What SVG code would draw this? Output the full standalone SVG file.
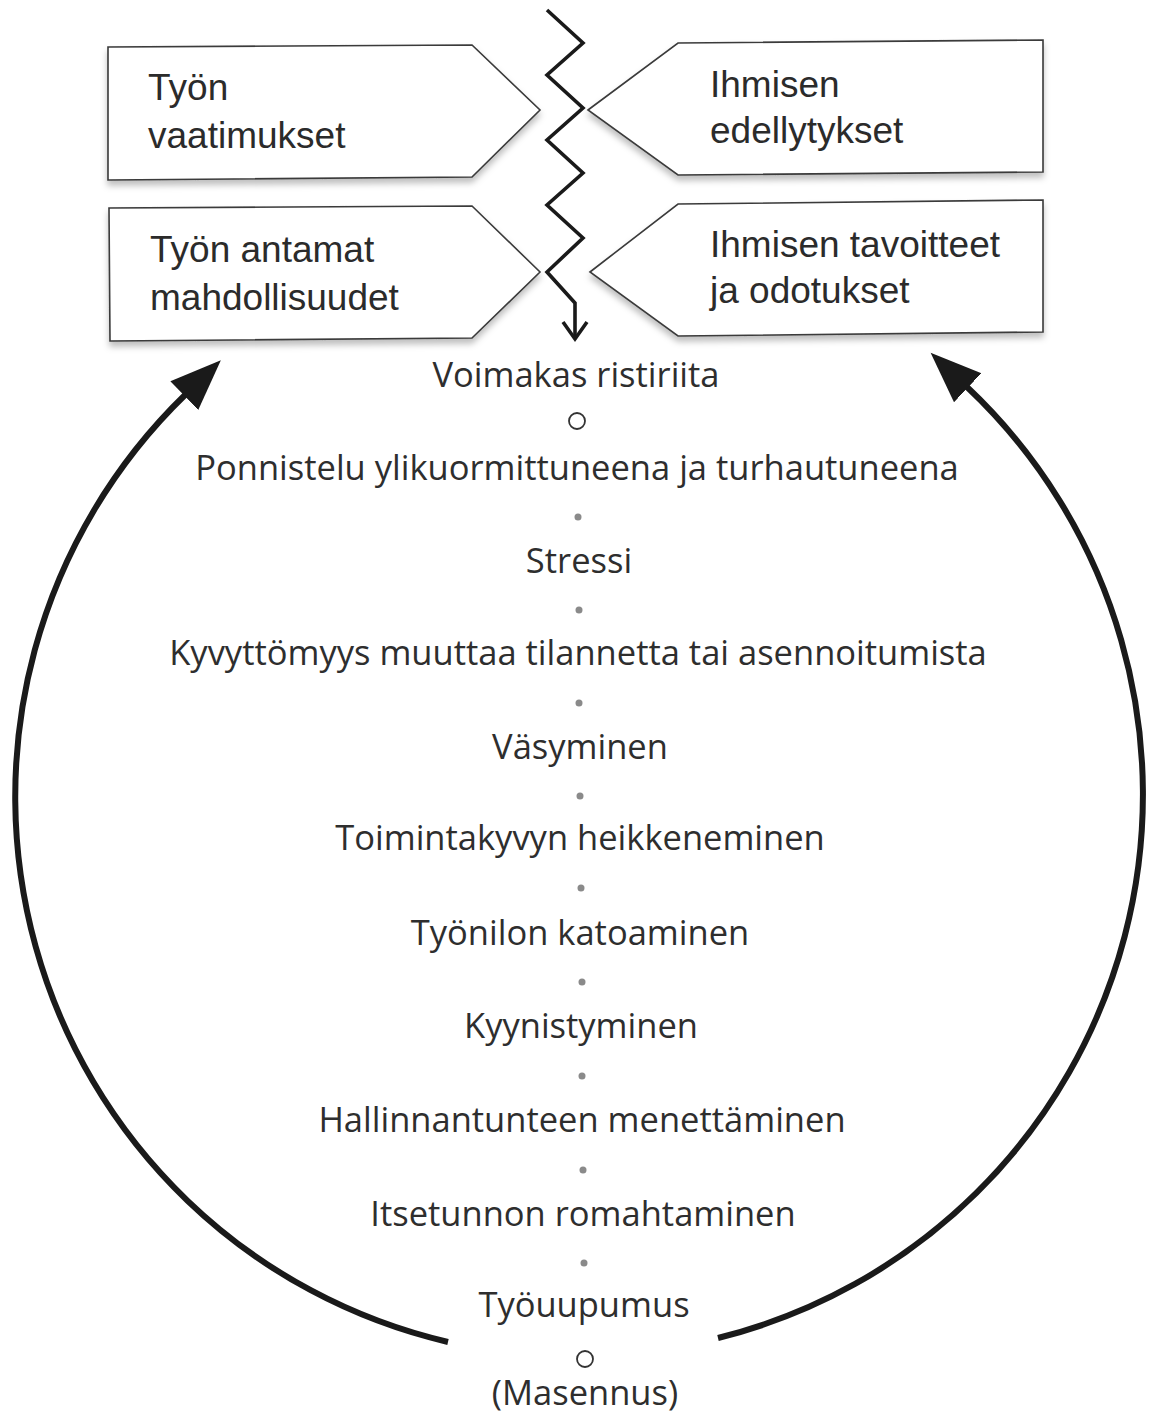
<svg xmlns="http://www.w3.org/2000/svg" width="1150" height="1419" viewBox="0 0 1150 1419">
<style>
.box{fill:#fff;stroke:#3a3a3a;stroke-width:1.6;filter:url(#sh)}
.bt{font-family:"Liberation Sans",Arial,sans-serif;font-size:37px;fill:#2b2b2b}
.ct{font-family:"Open Sans","Noto Sans",sans-serif;font-size:34.5px;fill:#2e2e2e;text-anchor:middle}
.dot{fill:#8a8a8a}
.ring{fill:none;stroke:#333;stroke-width:1.8}
.arc{fill:none;stroke:#1a1a1a;stroke-width:6}
</style>
<defs>
<filter id="sh" x="-5%" y="-10%" width="110%" height="130%">
<feDropShadow dx="0" dy="5" stdDeviation="3" flood-color="#000" flood-opacity="0.25"/>
</filter>
<marker id="ah" markerUnits="userSpaceOnUse" markerWidth="54" markerHeight="44" viewBox="0 -22 54 44" refX="1" refY="0" orient="auto">
<path d="M0,-20 L51,0 L0,20 Z" fill="#1a1a1a"/>
</marker>
</defs>
<g id="node-tyon-vaatimukset">
<polygon class="box" points="108,47 472,45 540,110 472,177 108,180"/>
<text class="bt" x="148" y="100">Työn</text>
<text class="bt" x="148" y="148">vaatimukset</text>
</g>
<g id="node-tyon-antamat">
<polygon class="box" points="109,208 472,206 540,272 472,338 110,341"/>
<text class="bt" x="150" y="262">Työn antamat</text>
<text class="bt" x="150" y="310">mahdollisuudet</text>
</g>
<g id="node-ihmisen-edellytykset">
<polygon class="box" points="588,110 678,43 1043,40 1043,172 678,175"/>
<text class="bt" x="710" y="97">Ihmisen</text>
<text class="bt" x="710" y="143">edellytykset</text>
</g>
<g id="node-ihmisen-tavoitteet">
<polygon class="box" points="590,272 678,204 1043,200 1043,332 678,336"/>
<text class="bt" x="710" y="257">Ihmisen tavoitteet</text>
<text class="bt" x="710" y="303">ja odotukset</text>
</g>
<g id="connectors">
<polyline points="547,10 583,43 547,75 583,108 547,140 583,173 547,205 583,238 547,272 575,303 575,339" fill="none" stroke="#1a1a1a" stroke-width="3.6" stroke-linejoin="miter"/>
<polyline points="563,322 575,339 587,322" fill="none" stroke="#1a1a1a" stroke-width="3.6"/>
<path class="arc" d="M448,1342 A560,560 0 0 1 185,395" marker-end="url(#ah)"/>
<path class="arc" d="M718,1338 A560,560 0 0 0 967,387" marker-end="url(#ah)"/>
</g>
<g id="node-chain">
<text class="ct" x="576" y="387">Voimakas ristiriita</text>
<circle class="ring" cx="577" cy="421" r="8"/>
<text class="ct" x="577" y="480">Ponnistelu ylikuormittuneena ja turhautuneena</text>
<circle class="dot" cx="578" cy="517" r="3.5"/>
<text class="ct" x="579" y="573">Stressi</text>
<circle class="dot" cx="579" cy="610" r="3.5"/>
<text class="ct" x="578" y="665">Kyvyttömyys muuttaa tilannetta tai asennoitumista</text>
<circle class="dot" cx="579" cy="703" r="3.5"/>
<text class="ct" x="580" y="759">Väsyminen</text>
<circle class="dot" cx="580" cy="796" r="3.5"/>
<text class="ct" x="580" y="850">Toimintakyvyn heikkeneminen</text>
<circle class="dot" cx="581" cy="888" r="3.5"/>
<text class="ct" x="580" y="945">Työnilon katoaminen</text>
<circle class="dot" cx="582" cy="982" r="3.5"/>
<text class="ct" x="581" y="1038">Kyynistyminen</text>
<circle class="dot" cx="582" cy="1076" r="3.5"/>
<text class="ct" x="582" y="1132">Hallinnantunteen menettäminen</text>
<circle class="dot" cx="583" cy="1170" r="3.5"/>
<text class="ct" x="583" y="1226">Itsetunnon romahtaminen</text>
<circle class="dot" cx="584" cy="1263" r="3.5"/>
<text class="ct" x="584" y="1317">Työuupumus</text>
<circle class="ring" cx="585" cy="1359" r="8"/>
<text class="ct" x="585" y="1405">(Masennus)</text>
</g>
</svg>
